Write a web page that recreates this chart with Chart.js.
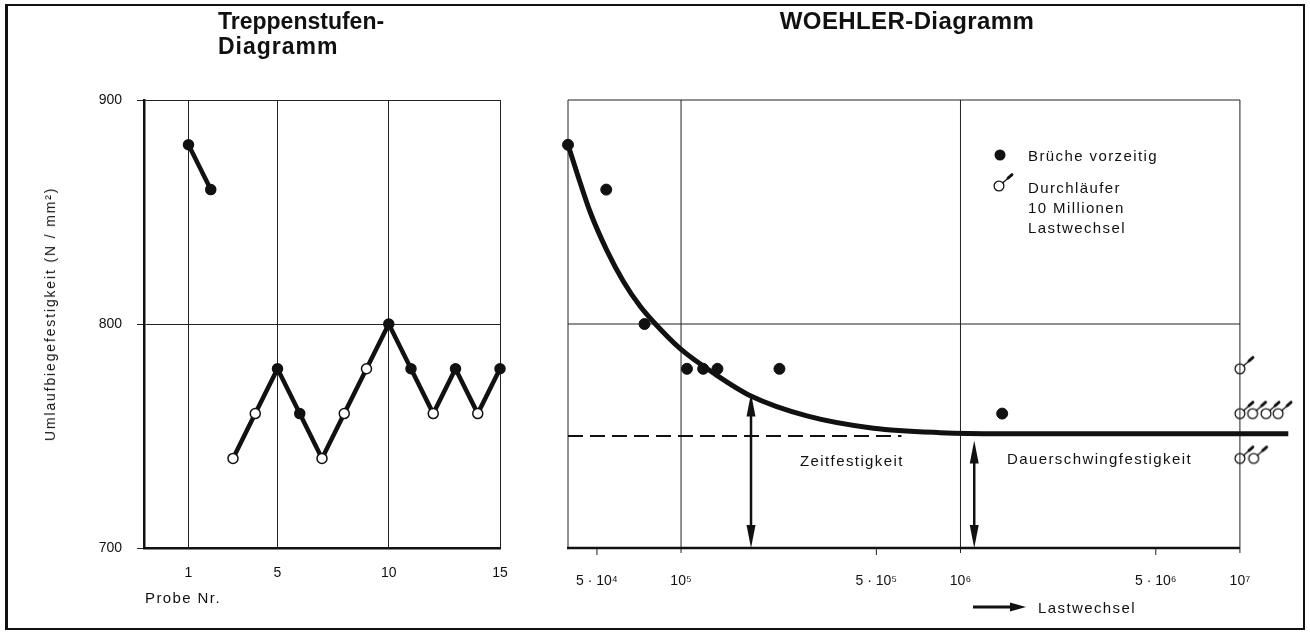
<!DOCTYPE html>
<html lang="de">
<head>
<meta charset="utf-8">
<title>Treppenstufen- und WOEHLER-Diagramm</title>
<script src="https://cdn.jsdelivr.net/npm/chart.js@4.4.1/dist/chart.umd.min.js"></script>
<style>
    html, body { margin: 0; padding: 0; background: #fff; }
    #page { position: relative; width: 1310px; height: 634px; overflow: hidden;
            font-family: 'Liberation Sans', Arial, sans-serif; color: #111; }
    #frame { position: absolute; left: 5px; top: 4px; width: 1300px; height: 626px;
             border: 2px solid #111; border-left-width: 3px; box-sizing: border-box; }
    .chart { position: absolute; top: 0; height: 634px; }
    #left { left: 0; width: 540px; }
    #right { left: 540px; width: 770px; }
    .txt { position: absolute; white-space: nowrap; line-height: 1; transform: translateY(-50%);
           font-size: 15px; letter-spacing: 1.4px; }
    .title { font-weight: bold; font-size: 23px; letter-spacing: 0; }
    .center { transform: translate(-50%, -50%); }
    #ylab { left: 50px; top: 314px; transform: translate(-50%, -50%) rotate(-90deg);
            font-size: 14px; letter-spacing: 1.85px; }
    #pfeil { position: absolute; left: 970px; top: 600px; }
</style>
</head>
<body>
<div id="page">
    <div id="frame"></div>
    <div class="chart" id="left"><canvas id="treppe"></canvas></div>
    <div class="chart" id="right"><canvas id="woehler"></canvas></div>

    <div class="txt title" style="left:218px; top:21px">Treppenstufen-</div>
    <div class="txt title" style="left:218px; top:46px; letter-spacing:1px">Diagramm</div>
    <div class="txt title center" style="left:907px; top:21px; font-size:24px; letter-spacing:0.4px">WOEHLER-Diagramm</div>
    <div class="txt" id="ylab">Umlaufbiegefestigkeit (N / mm²)</div>
    <div class="txt" style="left:145px; top:597px">Probe Nr.</div>

    <div class="txt" style="left:1028px; top:155px">Brüche vorzeitig</div>
    <div class="txt" style="left:1028px; top:187px">Durchläufer</div>
    <div class="txt" style="left:1028px; top:207px">10 Millionen</div>
    <div class="txt" style="left:1028px; top:227px">Lastwechsel</div>
    <div class="txt" style="left:800px; top:460px">Zeitfestigkeit</div>
    <div class="txt" style="left:1007px; top:458px">Dauerschwingfestigkeit</div>

    <svg id="pfeil" width="60" height="14">
        <line x1="3" y1="7" x2="44" y2="7" stroke="#111" stroke-width="3"/>
        <polygon points="40,2.5 56,7 40,11.5" fill="#111"/>
    </svg>
    <div class="txt" style="left:1038px; top:607px">Lastwechsel</div>
</div>

<script>
// Treppenstufen-Diagramm
const probeNr = [1, 2, 3, 4, 5, 6, 7, 8, 9, 10, 11, 12, 13, 14, 15];
const stufe = [880, 860, 740, 760, 780, 760, 740, 760, 780, 800, 780, 760, 780, 760, 780];
const gebrochen = [1, 1, 0, 0, 1, 1, 0, 0, 0, 1, 1, 0, 1, 0, 1];   // 1 = Bruch, 0 = Durchlaeufer
const ohneLinieNach = [2];
const probeTicks = [1, 5, 10, 15];
const spannungTicks = [700, 800, 900];

// WOEHLER-Diagramm
const lwMin = 39400;
const lwMax = 14960000;
const bruchLW = [39400, 54000, 74000, 105000, 120000, 135000, 225000, 1410000];
const bruchSp = [880, 860, 800, 780, 780, 780, 780, 760];
const laeuferLW = [1e7, 1e7, 1.11e7, 1.24e7, 1.37e7, 1e7, 1.12e7];
const laeuferSp = [780, 760, 760, 760, 760, 740, 740];
const kurveLW = [39400, 42800, 47300, 54200, 62200, 71300, 79600, 99300, 131000, 177000, 282000, 488000, 845000, 1390000, 14900000];
const kurveSp = [880, 866, 850, 833, 819, 808, 801, 789, 778, 768, 759, 753.5, 751.5, 751, 751];
const dauerLW = [39400, 615000];
const dauerSp = [750, 750];
const lwTicks = [5e4, 1e5, 5e5, 1e6, 5e6, 1e7];
const lwLabels = ['5 · 10⁴', '10⁵', '5 · 10⁵', '10⁶', '5 · 10⁶', '10⁷'];
const pfeilLW = [1.78e5, 1.12e6];
const pfeilVon = [769, 748];
const pfeilBis = [700, 700];

const schrift = "'Liberation Sans', Arial, sans-serif";
const schwarz = '#111';

function punkte(xs, ys) {
    return xs.map((x, i) => ({ x: x, y: ys[i] }));
}

function laeuferSymbol() {
    const c = document.createElement('canvas');
    c.width = 36;
    c.height = 36;
    const g = c.getContext('2d');
    g.strokeStyle = schwarz;
    g.lineWidth = 1.3;
    g.beginPath();
    g.arc(18, 18, 4.9, 0, Math.PI * 2);
    g.stroke();
    g.beginPath();
    g.moveTo(21.6, 14.9);
    g.lineTo(30.5, 7.2);
    g.stroke();
    g.lineWidth = 2.8;
    g.lineCap = 'round';
    g.beginPath();
    g.moveTo(27, 10.1);
    g.lineTo(31, 6.6);
    g.stroke();
    return c;
}
const symbol = laeuferSymbol();

const basis = {
    responsive: true,
    maintainAspectRatio: false,
    animation: false,
    events: [],
    plugins: { legend: { display: false }, tooltip: { enabled: false } }
};

new Chart(document.getElementById('treppe'), {
    type: 'line',
    data: {
        datasets: [{
            data: punkte(probeNr, stufe),
            borderColor: schwarz,
            borderWidth: 4.5,
            segment: {
                borderColor: ctx => ohneLinieNach.includes(probeNr[ctx.p0DataIndex]) ? 'transparent' : schwarz
            },
            pointRadius: 5,
            pointBorderWidth: 1.5,
            pointBorderColor: schwarz,
            pointBackgroundColor: gebrochen.map(b => b ? schwarz : '#fff'),
            clip: false
        }]
    },
    options: {
        ...basis,
        layout: { padding: { left: 0, top: 100, right: 40, bottom: 0 } },
        scales: {
            x: {
                type: 'linear', min: -1, max: 15,
                afterBuildTicks: s => { s.ticks = probeTicks.map(v => ({ value: v })); },
                afterFit: s => { s.height = 86; },
                grid: { color: '#222', lineWidth: 1, drawTicks: false },
                border: { color: schwarz, width: 2.5 },
                ticks: { color: schwarz, font: { family: schrift, size: 14 }, padding: 17, maxRotation: 0, autoSkip: false }
            },
            y: {
                min: 700, max: 900,
                afterBuildTicks: s => { s.ticks = spannungTicks.map(v => ({ value: v })); },
                afterFit: s => { s.width = 144; },
                grid: { color: '#222', lineWidth: 1, tickLength: 7 },
                border: { color: schwarz, width: 2.5 },
                ticks: { color: schwarz, font: { family: schrift, size: 14 }, padding: 15 }
            }
        }
    }
});

function linie(ctx, x1, y1, x2, y2) {
    ctx.beginPath();
    ctx.moveTo(x1, y1);
    ctx.lineTo(x2, y2);
    ctx.stroke();
}

function spitze(ctx, x, y, richtung) {
    ctx.beginPath();
    ctx.moveTo(x, y);
    ctx.lineTo(x - 4.5, y - richtung * 23);
    ctx.lineTo(x + 4.5, y - richtung * 23);
    ctx.closePath();
    ctx.fill();
}

// Rahmen, Gitter, Pfeile und Legendenzeichen des WOEHLER-Diagramms
const woehlerRahmen = {
    id: 'woehlerRahmen',
    beforeDatasetsDraw(chart) {
        const { ctx, scales: { x, y } } = chart;
        const l = x.getPixelForValue(lwMin), r = x.getPixelForValue(1e7);
        const t = y.getPixelForValue(900), m = y.getPixelForValue(800), b = y.getPixelForValue(700);
        ctx.save();
        ctx.strokeStyle = '#222';
        ctx.lineWidth = 1;
        linie(ctx, l, t, r, t);
        linie(ctx, l, m, r, m);
        linie(ctx, l, t, l, b);
        lwTicks.forEach(v => {
            const px = x.getPixelForValue(v);
            if (Number.isInteger(Math.log10(v))) linie(ctx, px, t, px, b + 5);
            else linie(ctx, px, b, px, b + 7);
        });
        ctx.strokeStyle = schwarz;
        ctx.lineWidth = 2.5;
        linie(ctx, l - 1, b, r, b);
        ctx.restore();
    },
    afterDatasetsDraw(chart) {
        const { ctx, scales: { x, y } } = chart;
        ctx.save();
        ctx.strokeStyle = schwarz;
        ctx.fillStyle = schwarz;
        ctx.lineWidth = 2.5;
        pfeilLW.forEach((v, i) => {
            const px = x.getPixelForValue(v);
            const y1 = y.getPixelForValue(pfeilVon[i]), y2 = y.getPixelForValue(pfeilBis[i]);
            linie(ctx, px, y1 + 10, px, y2 - 10);
            spitze(ctx, px, y1, -1);
            spitze(ctx, px, y2, 1);
        });
        // Legende
        ctx.beginPath();
        ctx.arc(460, 155, 5.5, 0, Math.PI * 2);
        ctx.fill();
        ctx.drawImage(symbol, 459 - 18, 186 - 18);
        ctx.restore();
    }
};

new Chart(document.getElementById('woehler'), {
    type: 'line',
    data: {
        datasets: [{
            data: punkte(kurveLW, kurveSp),
            borderColor: schwarz,
            borderWidth: 5,
            cubicInterpolationMode: 'monotone',
            pointRadius: 0,
            clip: false
        }, {
            data: punkte(dauerLW, dauerSp),
            borderColor: schwarz,
            borderWidth: 2,
            borderDash: [15, 7],
            pointRadius: 0
        }, {
            data: punkte(bruchLW, bruchSp),
            showLine: false,
            pointRadius: 5.5,
            pointBackgroundColor: schwarz,
            pointBorderColor: schwarz,
            clip: false
        }, {
            data: punkte(laeuferLW, laeuferSp),
            showLine: false,
            pointStyle: symbol,
            clip: false
        }]
    },
    options: {
        ...basis,
        layout: { padding: { left: 28, top: 100, right: 21.2, bottom: 0 } },
        scales: {
            x: {
                type: 'logarithmic', min: lwMin, max: lwMax,
                afterBuildTicks: s => { s.ticks = lwTicks.map(v => ({ value: v })); },
                afterFit: s => { s.height = 86; },
                grid: { display: false },
                border: { display: false },
                ticks: {
                    color: schwarz, font: { family: schrift, size: 14 }, padding: 17,
                    maxRotation: 0, autoSkip: false,
                    callback: (v, i) => lwLabels[i]
                }
            },
            y: { display: false, min: 700, max: 900 }
        }
    },
    plugins: [woehlerRahmen]
});
</script>
</body>
</html>
